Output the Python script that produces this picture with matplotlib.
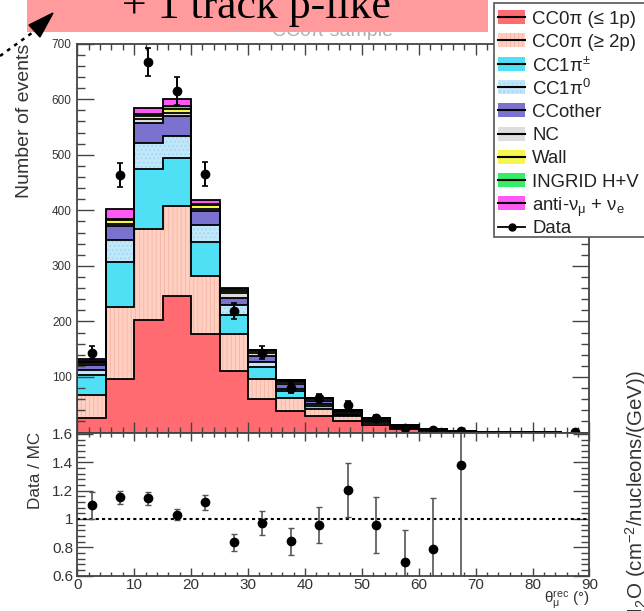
import numpy as np
import matplotlib
matplotlib.use('Agg')
import matplotlib.pyplot as plt
from matplotlib.patches import Rectangle, Polygon
from matplotlib.lines import Line2D
from matplotlib.ticker import MultipleLocator

plt.rcParams['font.family'] = ['Liberation Sans', 'DejaVu Sans']
plt.rcParams['mathtext.fontset'] = 'custom'
plt.rcParams['mathtext.rm'] = 'Liberation Sans'
plt.rcParams['mathtext.it'] = 'Liberation Sans:italic'
plt.rcParams['hatch.linewidth'] = 0.6

# theta_mu^rec bins, 5 degrees wide
edges = np.arange(0, 91, 5)
centers = edges[:-1] + 2.5

# stacked MC contributions (events per bin), bottom to top
cc0pi_le1p = [26, 96, 202, 245, 178, 110, 60, 39, 30, 21, 13, 7, 3, 1, 0.5, 0.3, 0.1, 0]
cc0pi_ge2p = [42, 130, 165, 163, 103, 68, 36, 23, 13, 8, 5, 2, 1, 0.5, 0.2, 0.1, 0, 0]
cc1pi_pm = [36, 81, 107, 87, 62, 34, 22, 12, 5, 3, 2, 1, 0.5, 0.2, 0.1, 0, 0, 0]
cc1pi_0 = [9, 39, 47, 39, 31, 18, 9, 5, 3, 2, 1, 0.5, 0.2, 0.1, 0, 0, 0, 0]
cc_other = [9, 25, 37, 36, 24, 13, 11, 8, 6, 3, 3, 1, 0.5, 0.2, 0.1, 0, 0, 0]
nc = [3, 5, 6, 5, 5, 8, 5, 4, 3, 2, 1.5, 1, 0.5, 0.2, 0.1, 0.1, 0, 0]
wall = [2, 6, 6, 8, 6, 4, 3, 2, 1.5, 1, 0.5, 0.3, 0.2, 0.1, 0, 0, 0, 0]
ingrid = [1, 3, 3, 4, 3, 3, 2, 1, 1, 0.5, 0.3, 0.2, 0.1, 0, 0, 0, 0, 0]
anti_nu = [5, 17, 11, 13, 7, 2, 1, 0.5, 0.5, 0.3, 0.2, 0.1, 0.1, 0, 0, 0, 0, 0]

# data
data = [144, 464, 667, 615, 465, 219, 144, 81, 62, 49, 26, 9, 5, 3, 0, 0, 0, 1]
data_err = [12, 22, 26, 25, 22, 15, 12, 9, 8, 7, 5, 3, 2.2, 1.7, 0, 0, 0, 1]

# data / MC ratio (first 14 bins)
ratio = [1.095, 1.153, 1.146, 1.029, 1.116, 0.835, 0.972, 0.842, 0.958, 1.206, 0.958, 0.694, 0.789, 1.384]
ratio_err = [0.095, 0.047, 0.045, 0.04, 0.05, 0.06, 0.085, 0.095, 0.125, 0.19, 0.2, 0.23, 0.36, 1.0]

labels = ['CC0π (≤ 1p)', 'CC0π (≥ 2p)', r'CC1π$^{\pm}$', r'CC1π$^{0}$', 'CCother', 'NC',
          'Wall', 'INGRID H+V', r'anti-ν$_{\mathregular{μ}}$ + ν$_{\mathregular{e}}$']
layers = [cc0pi_le1p, cc0pi_ge2p, cc1pi_pm, cc1pi_0, cc_other, nc, wall, ingrid, anti_nu]
colors = ['#FF6B70', '#FFD0C2', '#50E0F6', '#C0E6FA', '#7B72CF', '#DDDDDD', '#F6F64C', '#35EE68', '#FF58F4']
hatches = [None, '||||', None, '....', None, None, None, None, None]
hatch_cols = [None, '#F4B5A6', None, '#9CD2F2', None, None, None, None, None]

W, H = 644, 611
fig = plt.figure(figsize=(W / 100, H / 100), dpi=100)
ax1 = fig.add_axes([0.120, 0.2921, 0.7953, 0.6365])
ax2 = fig.add_axes([0.120, 0.0581, 0.7953, 0.2340])

# stack drawn ROOT style: cumulative histograms from the top down
cum = np.cumsum(np.array(layers, dtype=float), axis=0)
for i in range(len(layers) - 1, -1, -1):
    ax1.stairs(cum[i], edges, fill=True, color=colors[i], lw=0, zorder=1)
    if hatches[i]:
        ax1.stairs(cum[i], edges, fill=True, facecolor='none', edgecolor=hatch_cols[i],
                   hatch=hatches[i], lw=0, zorder=1)
    ax1.stairs(cum[i], edges, color='black', lw=1.3, zorder=2)

data = np.array(data, dtype=float)
mask = data > 0
ax1.errorbar(centers[mask], data[mask], yerr=np.array(data_err)[mask], fmt='o', color='black',
             ms=6, elinewidth=1.4, capsize=2, capthick=1.2, zorder=5)

ax1.set_xlim(0, 90)
ax1.set_ylim(0, 700)
ax1.set_xticks(np.arange(0, 91, 10))
ax1.xaxis.set_minor_locator(MultipleLocator(2))
ax1.set_yticks(np.arange(0, 701, 100))
ax1.set_yticklabels([''] + [str(v) for v in range(100, 701, 100)])
ax1.yaxis.set_minor_locator(MultipleLocator(20))
ax1.tick_params(which='both', direction='in', top=True, right=True, labelbottom=False,
                colors='#444', labelcolor='#333', labelsize=8.5, width=1.0)
ax1.tick_params(axis='y', which='major', length=12, pad=4)
ax1.tick_params(axis='y', which='minor', length=6)
ax1.tick_params(axis='x', which='major', length=8)
ax1.tick_params(axis='x', which='minor', length=4)

# ratio panel
ax2.errorbar(centers[:len(ratio)], ratio, yerr=ratio_err, fmt='o', color='black', ecolor='#555',
             ms=6, elinewidth=1.2, capsize=2.5, capthick=1.0, zorder=5)
ax2.axhline(1.0, color='black', lw=1.5, ls=(0, (1.5, 1.5)), zorder=3)
ax2.set_xlim(0, 90)
ax2.set_ylim(0.6, 1.61)
ax2.set_xticks(np.arange(0, 91, 10))
ax2.set_xticklabels([str(v) for v in range(0, 91, 10)])
ax2.xaxis.set_minor_locator(MultipleLocator(2))
ax2.set_yticks([0.6, 0.8, 1.0, 1.2, 1.4, 1.6])
ax2.set_yticklabels(['0.6', '0.8', '1', '1.2', '1.4', '1.6'])
ax2.yaxis.set_minor_locator(MultipleLocator(0.04))
ax2.tick_params(which='both', direction='in', top=True, right=True,
                colors='#444', labelcolor='#333', labelsize=11, width=1.0)
ax2.tick_params(axis='y', which='major', length=11.5, pad=3)
ax2.tick_params(axis='y', which='minor', length=5.5)
ax2.tick_params(axis='x', which='major', length=6, pad=2)
ax2.tick_params(axis='x', which='minor', length=3)

for ax in (ax1, ax2):
    for s in ax.spines.values():
        s.set_color('#444')
        s.set_linewidth(1.3)
        s.set_zorder(6)

# helpers for pixel positions in the figure
fx = lambda x: x / W
fy = lambda y: 1 - y / H
pts = lambda xy: [(fx(x), fy(y)) for x, y in xy]

# axis titles
fig.text(fx(25), fy(44), 'Number of events', rotation=90, ha='center', va='top',
         fontsize=14, color='#333')
fig.text(fx(36), fy(432), 'Data / MC', rotation=90, ha='center', va='top',
         fontsize=12.3, color='#333')
fig.text(fx(589), fy(600), r'$\mathregular{θ_{μ}^{rec}}$ (°)', ha='right', va='center',
         fontsize=11, color='#333')

# partially visible label of a neighbouring plot
fig.text(fx(636), fy(370), r'POT/H$_2$O (cm$^{-2}$/nucleons/(GeV))', rotation=90,
         ha='center', va='top', fontsize=14.8, color='#333')

# hidden title under the banner: clipped to a thin strip so only its bottom edge peeks out
axg = fig.add_axes([fx(240), fy(42), fx(200), 10 / H], zorder=0.1)
axg.axis('off')
axg.text(fx(332), fy(36), 'CC0π sample', transform=fig.transFigure, ha='center', va='baseline',
         fontsize=14, color='#b0b0b0', clip_on=True)

# pink banner
fig.add_artist(Rectangle((fx(27), fy(32)), fx(488 - 27), 32 / H, transform=fig.transFigure,
                         facecolor='#FF9B9C', edgecolor='none', zorder=20))
fig.text(fx(256), fy(18), '+ 1 track p-like', ha='center', va='baseline',
         family=['Liberation Serif', 'DejaVu Serif'], fontsize=31.5, color='black', zorder=21)

# dotted arrow
(x0, y0), (x1, y1) = pts([(0, 56), (36, 30)])
fig.add_artist(Line2D([x0, x1], [y0, y1], transform=fig.transFigure, color='black', lw=1.8,
                      ls=(0, (1.5, 2)), zorder=21))
fig.add_artist(Polygon(pts([(29, 25), (53, 13), (40, 37)]), closed=True, transform=fig.transFigure,
                       facecolor='black', edgecolor='black', zorder=21))

# legend, laid out by hand (ROOT TLegend look)
fig.add_artist(Rectangle((fx(494), fy(237)), fx(660 - 494), 234 / H, transform=fig.transFigure,
                         facecolor='white', edgecolor='#555', lw=1.2, zorder=10))
row0, pitch = 17, 23.3
for i, lab in enumerate(labels + ['Data']):
    yc = row0 + i * pitch
    if i < len(layers):
        fig.add_artist(Rectangle((fx(498), fy(yc + 7)), fx(525 - 498), 14 / H,
                                 transform=fig.transFigure, facecolor=colors[i], lw=0, zorder=11))
        if hatches[i]:
            fig.add_artist(Rectangle((fx(498), fy(yc + 7)), fx(525 - 498), 14 / H,
                                     transform=fig.transFigure, facecolor='none',
                                     edgecolor=hatch_cols[i], hatch=hatches[i], lw=0, zorder=11))
        fig.add_artist(Line2D([fx(498), fx(525)], [fy(yc), fy(yc)], transform=fig.transFigure,
                              color='black', lw=1.5, zorder=12))
    else:
        fig.add_artist(Line2D([fx(498), fx(525)], [fy(yc), fy(yc)], transform=fig.transFigure,
                              color='black', lw=1.3, zorder=12))
        fig.add_artist(Line2D([fx(511.5)], [fy(yc)], transform=fig.transFigure, color='black',
                              marker='o', ms=5, lw=0, zorder=12))
    fig.text(fx(532), fy(yc), lab, ha='left', va='center_baseline', fontsize=13.4,
             color='#222', zorder=12)

fig.savefig('out.png', dpi=100)
